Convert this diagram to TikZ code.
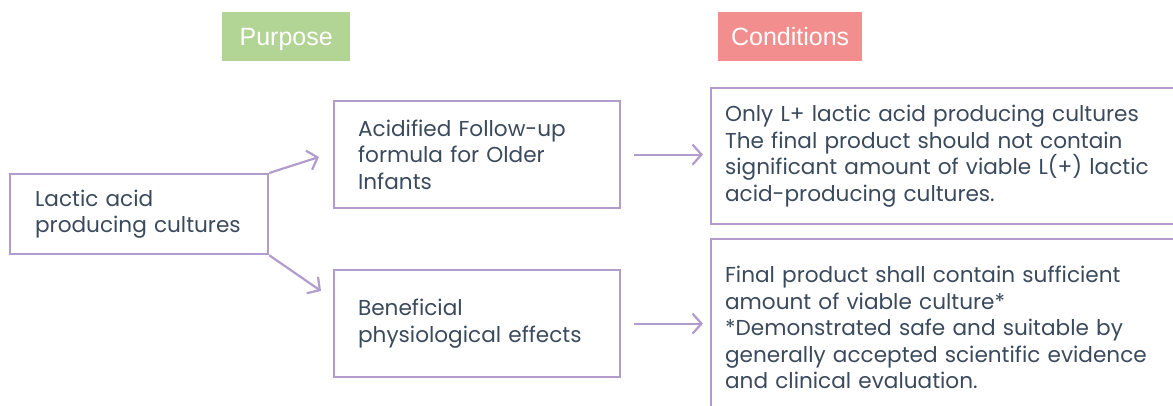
\documentclass[tikz,border=0pt]{standalone}
\usepackage{fontspec}
\setmainfont{Poppins}
\newfontfamily\headfont{Liberation Sans}
\usetikzlibrary{arrows.meta}
\usetikzlibrary{positioning}

\definecolor{lineviolet}{HTML}{B29CCE}
\definecolor{textslate}{HTML}{3A4A5C}
\definecolor{headgreen}{HTML}{B2D495}
\definecolor{headred}{HTML}{F28E8E}

\tikzset{
    box/.style = {draw = lineviolet, line width = 2.2pt, anchor = north west,
        align = left, text = textslate, font = \fontsize{21.6}{26.6}\selectfont},
    head/.style = {anchor = north west, text = white, inner sep = 0pt, text depth = 0pt,
        minimum height = 49pt, font = \headfont\fontsize{25}{28}\selectfont},
    arrow/.style = {draw = lineviolet, line width = 2.2pt,
        -{Straight Barb[length = 9pt, width = 20pt, line width = 2.2pt]}}
}

\begin{document}
\begin{tikzpicture}[x = 1pt, y = -1pt]

    \useasboundingbox (0,0) rectangle (1173,405);
    \clip (0,0) rectangle (1173,405);

    \node (purpose) at (222,12) [head, fill = headgreen, minimum width = 128pt] {Purpose};
    \node (cond) at (718,12) [head, fill = headred, minimum width = 144pt] {Conditions};

    \node (lactic) at (9,173) [box, minimum width = 258pt, minimum height = 80pt,
        text width = 208pt, inner xsep = 25pt] {Lactic acid\\producing cultures};

    \node (acid) at (333,100) [box, minimum width = 286pt, minimum height = 107pt,
        text width = 238pt, inner xsep = 24pt] {Acidified Follow-up\\formula for Older\\Infants};
    \node (benefit) at (333,269) [box, minimum width = 286pt, minimum height = 107pt,
        text width = 238pt, inner xsep = 24pt] {Beneficial\\physiological effects};

    \node (only) at (710,87) [box, minimum width = 490pt, minimum height = 136pt,
        text width = 462pt, inner xsep = 14pt] {Only L+ lactic acid producing cultures\\The final product should not contain\\significant amount of viable L(+) lactic\\acid-producing cultures.};
    \node (final) at (710,238) [box, minimum width = 490pt, minimum height = 177pt,
        text width = 462pt, inner xsep = 14pt] {Final product shall contain sufficient\\amount of viable culture{*}\\{*}Demonstrated safe and suitable by\\generally accepted scientific evidence\\and clinical evaluation.};

    \coordinate (tipA) at (319,157);
    \coordinate (tipB) at (321,291);

    \draw[arrow] (lactic.north east) -- (tipA);
    \draw[arrow] (lactic.south east) -- (tipB);

    \draw[arrow] ([xshift = 13pt]acid.east) -- ([xshift = -7pt]acid.east -| only.west);
    \draw[arrow] ([xshift = 13pt]benefit.east) -- ([xshift = -7pt]benefit.east -| final.west);

\end{tikzpicture}
\end{document}
